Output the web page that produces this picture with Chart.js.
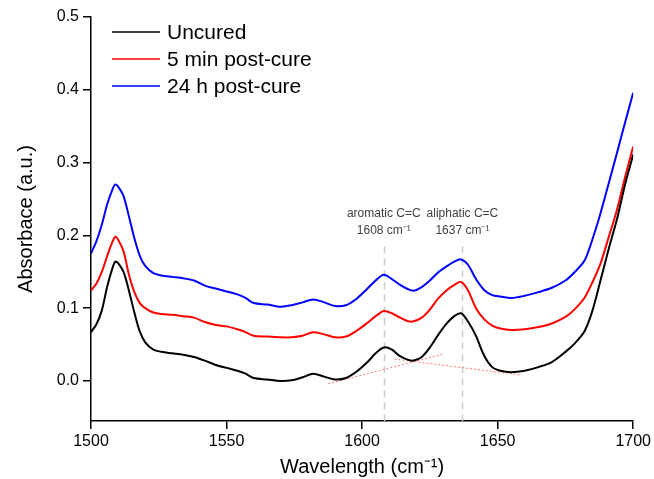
<!DOCTYPE html>
<html>
<head>
<meta charset="utf-8">
<script src="https://cdn.jsdelivr.net/npm/chart.js@4.4.1/dist/chart.umd.min.js"></script>
<style>
  html, body { margin: 0; padding: 0; background: #fff; }
  #wrap { width: 654px; height: 479px; }
</style>
</head>
<body>
<div id="wrap"><canvas id="c" width="654" height="479"></canvas></div>
<script>
// Wavenumber axis (cm^-1)
const wavenumbers = [1500,1502,1504,1506,1508,1509,1510,1512,1514,1516,1518,1520,1523,1526,1530,1534,1538,1542,1546,1550,1554,1557,1560,1565,1570,1574,1578,1582,1586,1590,1594,1598,1602,1605,1608,1611,1614,1617,1619,1622,1625,1628,1631,1634,1636.5,1639,1642,1645,1648,1651,1655,1660,1665,1670,1675,1678,1682,1685,1688,1691,1694,1697,1700];

const uncured = [0.067,0.078,0.097,0.130,0.156,0.164,0.162,0.150,0.124,0.094,0.068,0.053,0.043,0.040,0.038,0.036,0.033,0.028,0.022,0.018,0.014,0.010,0.004,0.002,0.000,0.001,0.005,0.010,0.006,0.002,0.004,0.013,0.026,0.038,0.046,0.043,0.034,0.029,0.028,0.033,0.046,0.063,0.078,0.089,0.093,0.082,0.062,0.035,0.019,0.014,0.012,0.014,0.019,0.026,0.040,0.050,0.068,0.097,0.139,0.182,0.222,0.270,0.311];

const postCure5min = [0.124,0.134,0.150,0.172,0.192,0.198,0.194,0.178,0.146,0.122,0.107,0.100,0.094,0.092,0.091,0.089,0.087,0.081,0.077,0.075,0.071,0.067,0.062,0.061,0.060,0.060,0.062,0.067,0.064,0.060,0.061,0.069,0.080,0.089,0.096,0.093,0.087,0.082,0.082,0.087,0.098,0.113,0.124,0.132,0.136,0.125,0.100,0.085,0.076,0.072,0.070,0.071,0.074,0.079,0.088,0.097,0.114,0.136,0.162,0.198,0.235,0.280,0.322];

const postCure24h = [0.175,0.192,0.215,0.243,0.264,0.270,0.267,0.254,0.226,0.196,0.172,0.158,0.148,0.145,0.143,0.141,0.138,0.131,0.127,0.123,0.119,0.114,0.107,0.105,0.102,0.104,0.108,0.112,0.108,0.103,0.104,0.113,0.127,0.138,0.146,0.140,0.132,0.126,0.124,0.129,0.138,0.149,0.157,0.164,0.167,0.160,0.140,0.125,0.118,0.116,0.114,0.117,0.122,0.128,0.138,0.148,0.165,0.195,0.231,0.272,0.313,0.355,0.396];

const seriesLabels = ['Uncured', '5 min post-cure', '24 h post-cure'];
const seriesColors = ['#000000', '#ff0000', '#0000ff'];

const yTicks = [0.0, 0.1, 0.2, 0.3, 0.4, 0.5];
const xTicks = [1500, 1550, 1600, 1650, 1700];

// Peak markers (vertical dashed lines) and their labels
const peakPositions = [1608, 1637];
const peakNames = ['aromatic C=C', 'aliphatic C=C'];
const peakLabels = ['1608 cm\u207B\u00B9', '1637 cm\u207B\u00B9'];
const peakLineTop = 0.185;

// Baseline construction lines (red dotted): [x1, y1, x2, y2]
const baselineA = [1587.5, -0.004, 1630, 0.037];
const baselineB = [1612, 0.030, 1659, 0.008];

function toPoints(xs, ys) { return xs.map((x, i) => ({ x: x, y: ys[i] })); }

const allSeries = [uncured, postCure5min, postCure24h];

const overlay = {
  id: 'overlay',
  beforeDatasetsDraw(chart) {
    const ctx = chart.ctx, xs = chart.scales.x, ys = chart.scales.y;
    ctx.save();
    ctx.strokeStyle = '#cccccc';
    ctx.lineWidth = 1.5;
    ctx.setLineDash([7, 5]);
    peakPositions.forEach(p => {
      const px = Math.round(xs.getPixelForValue(p)) + 0.5;
      ctx.beginPath();
      ctx.moveTo(px, ys.getPixelForValue(peakLineTop));
      ctx.lineTo(px, ys.bottom);
      ctx.stroke();
    });
    ctx.strokeStyle = '#ff7878';
    ctx.lineWidth = 1;
    ctx.setLineDash([2, 2]);
    [baselineA, baselineB].forEach(b => {
      ctx.beginPath();
      ctx.moveTo(xs.getPixelForValue(b[0]), ys.getPixelForValue(b[1]));
      ctx.lineTo(xs.getPixelForValue(b[2]), ys.getPixelForValue(b[3]));
      ctx.stroke();
    });
    ctx.restore();
  },
  afterDraw(chart) {
    const ctx = chart.ctx, xs = chart.scales.x;
    ctx.save();
    ctx.fillStyle = '#404040';
    ctx.font = '12px "Liberation Sans", Arial, sans-serif';
    ctx.textAlign = 'center';
    ctx.textBaseline = 'middle';
    peakPositions.forEach((p, i) => {
      const px = xs.getPixelForValue(p);
      ctx.fillText(peakNames[i], px, 214);
      ctx.fillText(peakLabels[i], px, 231);
    });
    ctx.font = '21px "Liberation Sans", Arial, sans-serif';
    ctx.textAlign = 'left';
    ctx.fillStyle = '#000';
    ctx.setLineDash([]);
    seriesLabels.forEach((lab, i) => {
      const y = 32 + i * 27;
      ctx.strokeStyle = seriesColors[i];
      ctx.lineWidth = 1.5;
      ctx.beginPath();
      ctx.moveTo(112, y);
      ctx.lineTo(160, y);
      ctx.stroke();
      ctx.fillText(lab, 167, y + 1);
    });
    ctx.restore();
  }
};

new Chart(document.getElementById('c'), {
  type: 'line',
  data: {
    datasets: allSeries.map((s, i) => ({
      label: seriesLabels[i],
      data: toPoints(wavenumbers, s),
      borderColor: seriesColors[i],
      borderWidth: 2,
      pointRadius: 0,
      tension: 0.3,
      fill: false
    }))
  },
  options: {
    responsive: false,
    animation: false,
    events: [],
    layout: { padding: { top: 17, right: 15, left: 0, bottom: 0 } },
    plugins: { legend: { display: false }, tooltip: { enabled: false } },
    scales: {
      x: {
        type: 'linear',
        min: 1500,
        max: 1700,
        afterBuildTicks: s => { s.ticks = xTicks.map(v => ({ value: v })); },
        afterFit: s => { s.height = 58; },
        ticks: {
          callback: v => String(v),
          color: '#000',
          font: { family: '"Liberation Sans", Arial, sans-serif', size: 16 },
          padding: 3,
          maxRotation: 0
        },
        grid: { drawOnChartArea: false, drawTicks: true, tickLength: 8, color: '#000', lineWidth: 1.5 },
        border: { display: true, color: '#000', width: 1.5 },
        title: {
          display: true,
          text: 'Wavelength (cm\u207B\u00B9)',
          color: '#000',
          font: { family: '"Liberation Sans", Arial, sans-serif', size: 20 },
          padding: { top: 0, bottom: 0 }
        }
      },
      y: {
        type: 'linear',
        min: -0.055,
        max: 0.5,
        afterBuildTicks: s => { s.ticks = yTicks.map(v => ({ value: v })); },
        afterFit: s => { s.width = 91; },
        ticks: {
          callback: v => Number(v).toFixed(1),
          color: '#000',
          font: { family: '"Liberation Sans", Arial, sans-serif', size: 16 },
          padding: 4
        },
        grid: { drawOnChartArea: false, drawTicks: true, tickLength: 8, color: '#000', lineWidth: 1.5 },
        border: { display: true, color: '#000', width: 1.5 },
        title: {
          display: true,
          text: 'Absorbace (a.u.)',
          color: '#000',
          font: { family: '"Liberation Sans", Arial, sans-serif', size: 20 },
          padding: { top: 14, bottom: 0 }
        }
      }
    }
  },
  plugins: [overlay]
});
</script>
</body>
</html>
